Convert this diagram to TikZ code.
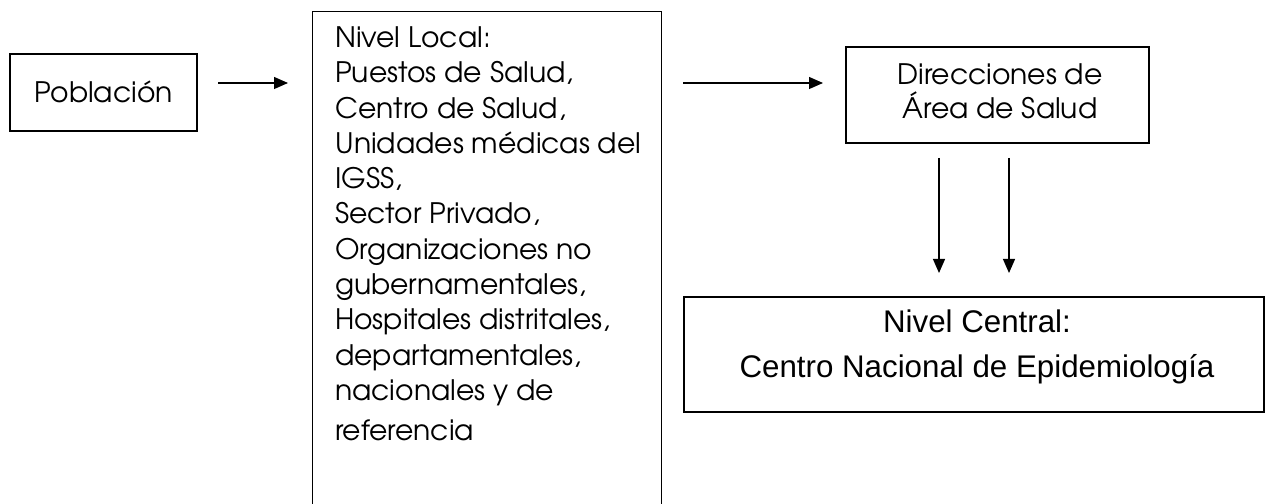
\documentclass[tikz,border=0pt]{standalone}
\usepackage{fontspec}
\newfontfamily\gothicfam{TeX Gyre Adventor}
\newfontfamily\arialfam{Liberation Sans}
\usetikzlibrary{arrows.meta}
\newcommand\gothicfont{\gothicfam\fontsize{28.2bp}{35.3bp}\selectfont}
\newcommand\arialfont{\arialfam\fontsize{31.3bp}{37bp}\selectfont}
\begin{document}
\begin{tikzpicture}[x=1bp,y=-1bp,
  box/.style={draw, line width=1.2bp, inner sep=0pt},
  arr/.style={line width=1.2bp, -{Triangle[length=14bp,width=12bp]}},
  gt/.style={font=\gothicfont, inner sep=0pt, anchor=base west},
  gc/.style={font=\gothicfont, inner sep=0pt, anchor=base},
  ac/.style={font=\arialfont, inner sep=0pt, anchor=base}]
\useasboundingbox (0,0) rectangle (1265,504);
\clip (0,0) rectangle (1265,504);
\fill[white] (0,0) rectangle (1265,504);
% Poblacion
\node[box, minimum width=187bp, minimum height=77bp, font=\gothicfont,
      text height=21bp, text depth=0bp] (pob) at (103.5,92.5) {Población};
\coordinate (a1s) at (218,83);
\coordinate (a1e) at (288,83);
\draw[arr] (a1s) -- (a1e);
% Nivel local
\node[box, anchor=north west, minimum width=349bp, minimum height=540bp] (local) at (312,11) {};
\foreach \t [count=\i from 0] in {{Nivel Local:},{Puestos de Salud,},{Centro de Salud,},
  {Unidades médicas del},{IGSS,},{Sector Privado,},{Organizaciones no},
  {gubernamentales,},{Hospitales distritales,},{departamentales,},{nacionales y de}}
  \node[gt] (l\i) at (335,47.5+35.3*\i) {\t};
\node[gt] (lref) at (335,440) {referencia};
\coordinate (a2s) at (683,83);
\coordinate (a2e) at (823,83);
\draw[arr] (a2s) -- (a2e);
% Direcciones
\node[box, minimum width=303bp, minimum height=96bp] (dir) at (997.5,95) {};
\node[gc] (d1) at (1000,85) {Direcciones de};
\node[gc] (d2) at (1000,118.5) {Área de Salud};
\coordinate (a3s) at (939,158);
\coordinate (a3e) at (939,273);
\coordinate (a4s) at (1009,158);
\coordinate (a4e) at (1009,273);
\draw[arr] (a3s) -- (a3e);
\draw[arr] (a4s) -- (a4e);
% Nivel central
\node[box, minimum width=580bp, minimum height=115bp] (cen) at (974,354.5) {};
\node[ac] (c1) at (977,333) {Nivel Central:};
\node[ac] (c2) at (977,378) {Centro Nacional de Epidemiología};
\end{tikzpicture}
\end{document}
